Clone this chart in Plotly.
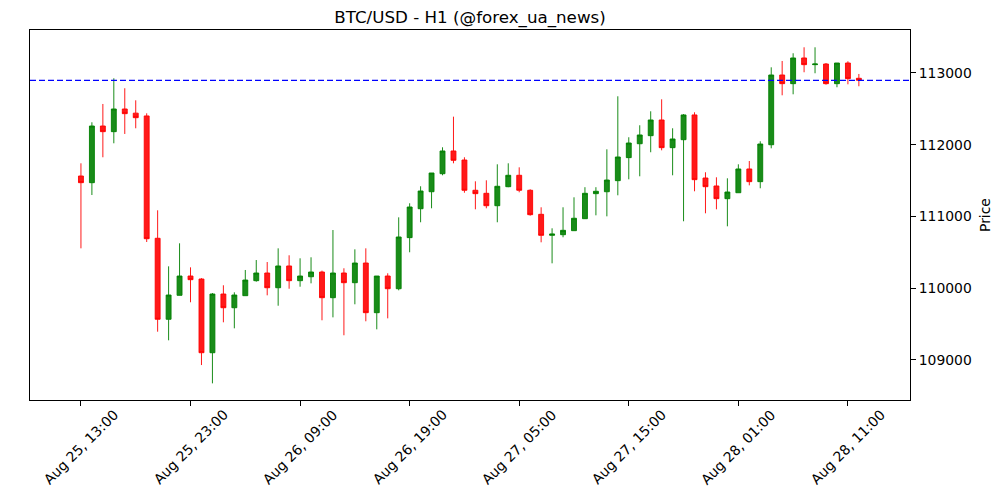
import pandas as pd
import plotly.graph_objects as go

start = "2025-08-25 13:00"
opens = [111564, 111471, 112261, 112182, 112498, 112440, 112401, 110696, 109567, 109901,
         110170, 110128, 109101, 109919, 109728, 109896, 110105, 110212, 110007, 110310,
         110105, 110160, 110226, 109868, 110212, 110077, 110351, 109659, 110170, 109993,
         110705, 111108, 111345, 111596, 111913, 111787, 111365, 111323, 111150, 111415,
         111574, 111365, 111030, 110737, 110746, 110802, 110969, 111318, 111345, 111499,
         111820, 112014, 112126, 112345, 111959, 112070, 112415, 111536, 111425, 111248,
         111331, 111662, 111485, 112000, 112972, 112851, 113209, 113116, 113125, 112851,
         113139, 112926]
highs = [111741, 112313, 112568, 112926, 112787, 112619, 112438, 111086, 110305, 110626,
         110291, 110140, 109933, 110041, 109943, 110254, 110393, 110365, 110556, 110459,
         110417, 110431, 110245, 110811, 110278, 110542, 110556, 110170, 110208, 110988,
         111184, 111421, 111606, 111964, 112391, 111825, 111490, 111504, 111727, 111741,
         111685, 111379, 111128, 110835, 111128, 111267, 111408, 111408, 111936, 112675,
         112104, 112271, 112466, 112633, 112229, 112428, 112452, 111616, 111546, 111532,
         111727, 111773, 112048, 113079, 113167, 113275, 113358, 113358, 113139, 113139,
         113163, 112986]
lows = [110556, 111299, 111825, 112020, 112150, 112229, 110644, 109394, 109274, 109900,
        109804, 108929, 108674, 109525, 109441, 109896, 110091, 109901, 109756, 109993,
        110021, 110068, 109553, 109594, 109344, 109776, 109539, 109427, 109580, 109971,
        110501, 110919, 111114, 111574, 111741, 111331, 111100, 111114, 110919, 111408,
        111337, 111011, 110640, 110347, 110710, 110800, 110965, 111016, 111002, 111295,
        111518, 111560, 111895, 111922, 111574, 110933, 111351, 111044, 111100, 110863,
        111331, 111434, 111393, 111950, 112689, 112703, 113010, 112996, 112837, 112801,
        112842, 112815]
closes = [111471, 112261, 112182, 112498, 112433, 112377, 110690, 109567, 109905, 110170,
          110119, 109101, 109919, 109728, 109905, 110114, 110212, 110007, 110310, 110105,
          110170, 110226, 109868, 110212, 110077, 110351, 109659, 110170, 109993, 110714,
          111132, 111355, 111606, 111913, 111783, 111365, 111318, 111150, 111421, 111574,
          111365, 111025, 110737, 110756, 110807, 110975, 111323, 111351, 111508, 111829,
          112024, 112136, 112345, 111959, 112080, 112415, 111513, 111415, 111248, 111341,
          111662, 111485, 112010, 112972, 112851, 113209, 113116, 113125, 112851, 113139,
          112921, 112898]

times = pd.date_range(start=start, periods=len(opens), freq="h")
tick_step = 10
tickvals = list(times[::tick_step])
ticktext = [t.strftime("%b %d, %H:%M") for t in tickvals]
ytickvals = [109000, 110000, 111000, 112000, 113000]

GREEN = "rgba(0,128,0,0.9)"
RED = "rgba(255,0,0,0.9)"
FS = 13.9

fig = go.Figure()
fig.add_trace(go.Candlestick(
    x=times, open=opens, high=highs, low=lows, close=closes,
    increasing=dict(line=dict(color=GREEN, width=1), fillcolor=GREEN),
    decreasing=dict(line=dict(color=RED, width=1), fillcolor=RED),
    whiskerwidth=0,
    showlegend=False,
))

fig.add_shape(type="line", xref="paper", x0=0, x1=1, yref="y",
              y0=closes[-1], y1=closes[-1],
              line=dict(color="blue", width=1.3, dash="6px,3px"))

# rotated x tick labels centred under their ticks (matplotlib style)
for tv, tt in zip(tickvals, ticktext):
    fig.add_annotation(x=tv, xref="x", y=0, yref="paper", text=tt, textangle=-45,
                       showarrow=False, xanchor="center", yanchor="top", yshift=-4,
                       font=dict(family="DejaVu Sans", size=FS, color="black"))

fig.add_annotation(x=1, xref="paper", xshift=75, y=0.5, yref="paper", text="Price",
                   textangle=-90, showarrow=False, xanchor="center", yanchor="middle",
                   font=dict(family="DejaVu Sans", size=FS, color="black"))

x0 = times[0] - pd.Timedelta(minutes=279)
x1 = times[0] + pd.Timedelta(minutes=4540)

# page body has an 8px margin, so the figure is 992x492 with plot area at (30..910, 30..400)
fig.update_layout(
    width=992, height=492,
    margin=dict(l=22, r=90, t=22, b=100, autoexpand=False),
    paper_bgcolor="white", plot_bgcolor="white",
    font=dict(family="DejaVu Sans", size=FS, color="black"),
    title=dict(text="BTC/USD - H1 (@forex_ua_news)", xref="paper", x=0.5, xanchor="center",
               y=1 - 9.5 / 492, yanchor="middle", font=dict(size=16.7)),
    boxgap=0.36,
    xaxis=dict(
        type="date", range=[x0, x1], rangeslider=dict(visible=False),
        tickmode="array", tickvals=tickvals, showticklabels=False, automargin=False,
        showgrid=False, zeroline=False, showline=True, linecolor="black", linewidth=1,
        mirror=True, ticks="outside", ticklen=5, tickcolor="black",
    ),
    yaxis=dict(
        side="right", range=[108442, 113599], tickmode="array", tickvals=ytickvals,
        ticktext=[str(v) for v in ytickvals], automargin=False,
        showgrid=False, zeroline=False, showline=True, linecolor="black", linewidth=1,
        mirror=True, ticks="outside", ticklen=5, tickcolor="black",
    ),
)

fig.write_html("out.html")
